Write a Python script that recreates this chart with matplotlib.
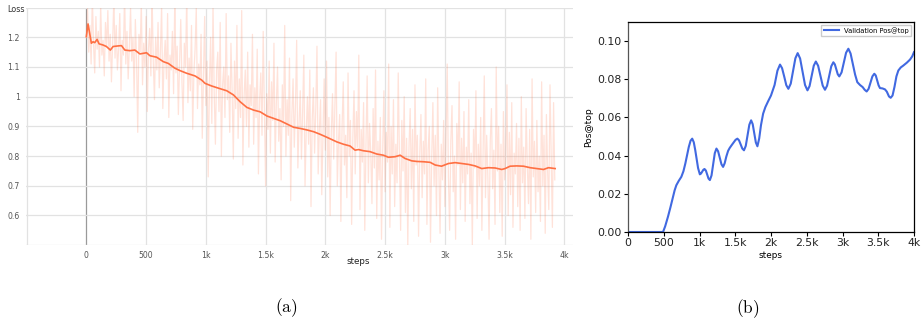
import numpy as np
import matplotlib
matplotlib.use("Agg")
import matplotlib.pyplot as plt

plt.rcParams["mathtext.fontset"] = "cm"

# ---------------- (a) training loss ----------------
# raw loss, logged every 10 steps
loss_raw = [
    1.20, 1.30, 1.15, 1.24, 1.11, 1.34, 1.18, 1.08, 1.27, 1.16, 1.22, 1.10, 1.31, 1.14, 1.19, 1.07, 1.25, 1.17, 1.29, 1.12,
    1.21, 1.05, 1.18, 1.33, 1.13, 1.24, 1.09, 1.16, 1.28, 1.02, 1.19, 1.14, 1.35, 1.11, 1.22, 1.06, 1.17, 1.30, 1.12, 1.20,
    1.00, 1.26, 1.13, 0.88, 1.21, 1.15, 1.32, 1.04, 1.18, 1.10, 1.27, 0.95, 1.16, 1.23, 1.07, 1.34, 1.12, 0.99, 1.20, 1.09,
    1.25, 1.03, 1.15, 1.31, 0.96, 1.12, 1.19, 1.06, 1.28, 0.93, 1.14, 1.09, 1.22, 1.01, 1.33, 1.08, 1.17, 0.94, 1.11, 1.26,
    1.05, 0.92, 1.18, 1.10, 1.34, 0.98, 1.13, 1.02, 1.24, 0.89, 1.08, 1.16, 1.30, 0.96, 1.11, 1.04, 1.21, 0.86, 1.07, 1.27,
    0.97, 1.12, 0.73, 1.05, 1.20, 0.91, 1.31, 1.01, 0.84, 1.09, 1.15, 0.95, 1.25, 0.80, 1.04, 1.10, 0.93, 1.28, 0.99, 1.07,
    0.88, 1.18, 1.02, 0.79, 1.12, 0.96, 1.24, 0.86, 1.06, 0.93, 1.29, 0.77, 1.00, 1.09, 0.90, 1.15, 0.83, 1.04, 0.97, 1.21,
    0.84, 1.03, 0.93, 1.16, 0.74, 0.99, 1.08, 0.87, 1.22, 0.95, 0.70, 1.01, 0.89, 1.12, 0.81, 1.05, 0.92, 1.18, 0.78, 0.98,
    1.10, 0.85, 0.96, 0.72, 1.04, 0.90, 1.24, 0.80, 0.99, 0.87, 1.13, 0.65, 0.94, 1.06, 0.83, 0.97, 1.19, 0.76, 0.91, 1.02,
    0.79, 0.95, 1.14, 0.70, 0.88, 1.00, 0.84, 1.09, 0.63, 0.92, 1.03, 0.81, 0.96, 1.17, 0.74, 0.89, 0.99, 0.67, 0.86, 1.06,
    0.82, 1.12, 0.73, 0.93, 0.60, 0.88, 1.01, 0.79, 0.97, 1.15, 0.70, 0.85, 0.94, 0.58, 0.90, 1.05, 0.77, 0.87, 0.66, 1.08,
    0.80, 0.92, 0.57, 0.86, 1.02, 0.74, 0.95, 0.83, 1.14, 0.62, 0.89, 0.78, 0.98, 0.55, 0.84, 1.07, 0.71, 0.91, 0.81, 0.64,
    0.96, 0.76, 1.09, 0.59, 0.85, 0.72, 0.93, 0.52, 0.82, 1.02, 0.68, 0.88, 0.78, 1.11, 0.56, 0.90, 0.74, 0.99, 0.63, 0.84,
    0.71, 1.08, 0.80, 0.55, 0.92, 0.75, 1.00, 0.61, 0.86, 0.50, 0.83, 0.96, 0.69, 0.89, 0.58, 1.04, 0.77, 0.87, 0.53, 0.81,
    0.94, 0.66, 0.85, 0.74, 1.06, 0.57, 0.82, 0.90, 0.51, 0.79, 0.98, 0.70, 0.87, 0.60, 1.03, 0.76, 0.54, 0.84, 0.72, 0.92,
    0.63, 0.88, 1.11, 0.73, 0.55, 0.85, 0.97, 0.68, 0.80, 0.52, 0.91, 0.77, 1.05, 0.62, 0.86, 0.71, 0.95, 0.58, 0.83, 0.74,
    0.99, 0.64, 0.81, 0.50, 0.89, 0.76, 1.02, 0.59, 0.84, 0.70, 0.93, 0.55, 0.80, 1.07, 0.66, 0.87, 0.73, 0.52, 0.85, 0.96,
    0.69, 0.82, 0.57, 1.10, 0.75, 0.90, 0.61, 0.84, 0.53, 0.95, 0.72, 0.79, 1.04, 0.60, 0.88, 0.67, 0.98, 0.56, 0.81, 0.74,
    0.91, 0.63, 0.86, 0.55, 1.00, 0.71, 0.83, 0.59, 0.96, 0.77, 0.64, 0.89, 0.52, 1.06, 0.73, 0.85, 0.61, 0.92, 0.68, 0.80,
    0.58, 1.05, 0.70, 0.87, 0.54, 0.94, 0.75, 0.62, 1.04, 0.81, 0.56, 0.98, 0.72,
]
loss_raw_steps = np.arange(len(loss_raw)) * 10

# smoothed loss
loss_smooth_steps = [
    0, 14, 28, 42, 56, 70, 90, 106, 140, 168, 201, 224, 266, 294, 322, 364,
    406, 448, 504, 532, 588, 644, 686, 741, 783, 839, 909, 965, 993, 1049,
    1119, 1175, 1231, 1287, 1343, 1399, 1455, 1511, 1567, 1623, 1679, 1735,
    1791, 1847, 1903, 1959, 2015, 2095, 2151, 2207, 2249, 2277, 2319, 2374,
    2430, 2486, 2528, 2584, 2626, 2667, 2723, 2765, 2821, 2877, 2919, 2972,
    3030, 3086, 3142, 3198, 3253, 3309, 3365, 3421, 3476, 3504, 3546, 3602,
    3658, 3714, 3770, 3826, 3867, 3923,
]
loss_smooth = [
    1.202, 1.245, 1.213, 1.180, 1.185, 1.182, 1.193, 1.178, 1.174, 1.169,
    1.157, 1.169, 1.171, 1.172, 1.157, 1.155, 1.157, 1.144, 1.148, 1.138,
    1.133, 1.118, 1.112, 1.096, 1.088, 1.079, 1.070, 1.056, 1.045, 1.036,
    1.027, 1.020, 1.006, 0.983, 0.964, 0.955, 0.949, 0.935, 0.927, 0.919,
    0.908, 0.897, 0.893, 0.888, 0.882, 0.873, 0.863, 0.848, 0.840, 0.834,
    0.820, 0.822, 0.818, 0.815, 0.807, 0.803, 0.796, 0.798, 0.803, 0.792,
    0.784, 0.782, 0.781, 0.779, 0.770, 0.766, 0.775, 0.778, 0.775, 0.772,
    0.767, 0.758, 0.761, 0.760, 0.755, 0.758, 0.766, 0.767, 0.766, 0.761,
    0.758, 0.755, 0.761, 0.758,
]

loss_xticks = [0, 500, 1000, 1500, 2000, 2500, 3000, 3500, 4000]
loss_xticklabels = ["0", "500", "1k", "1.5k", "2k", "2.5k", "3k", "3.5k", "4k"]
loss_yticks = [0.6, 0.7, 0.8, 0.9, 1.0, 1.1, 1.2]
loss_yticklabels = ["0.6", "0.7", "0.8", "0.9", "1", "1.1", "1.2"]

# ---------------- (b) validation Pos@top ----------------
val_steps = [
    0, 100, 200, 300, 400, 470, 490, 520, 559, 594, 629, 652, 676, 710, 746,
    775, 802, 827, 850, 875, 898, 920, 940, 956, 980, 1005, 1021, 1037, 1054,
    1070, 1089, 1107, 1126, 1145, 1168, 1191, 1214, 1237, 1260, 1283, 1307,
    1330, 1352, 1375, 1400, 1422, 1450, 1480, 1505, 1530, 1553, 1576, 1599,
    1622, 1647, 1672, 1697, 1722, 1744, 1766, 1788, 1810, 1835, 1860, 1890,
    1921, 1960, 2000, 2050, 2090, 2126, 2155, 2185, 2214, 2243, 2276, 2308,
    2341, 2373, 2407, 2442, 2476, 2510, 2539, 2569, 2598, 2627, 2659, 2691,
    2723, 2755, 2784, 2814, 2843, 2872, 2893, 2914, 2934, 2955, 2987, 3019,
    3050, 3082, 3113, 3145, 3176, 3207, 3245, 3282, 3310, 3338, 3365, 3392,
    3418, 3445, 3465, 3485, 3505, 3524, 3560, 3594, 3620, 3650, 3674, 3700,
    3727, 3754, 3781, 3815, 3851, 3900, 3944, 3975, 4000,
]
val_pos = [
    0.0, 0.0, 0.0, 0.0, 0.0, 0.0, 0.0, 0.003, 0.008, 0.013, 0.0184, 0.0218,
    0.0245, 0.0268, 0.0289, 0.0318, 0.0359, 0.0405, 0.0445, 0.0478, 0.0489,
    0.0470, 0.0430, 0.0393, 0.0335, 0.0302, 0.0306, 0.0316, 0.0326,
    0.0330, 0.0322, 0.0301, 0.0280, 0.0272, 0.0296, 0.0355, 0.0413,
    0.0437, 0.0423, 0.0389, 0.0355, 0.0341, 0.0360, 0.0395, 0.0425,
    0.0440, 0.0455, 0.0470, 0.0483, 0.0489, 0.0480, 0.0459, 0.0437,
    0.0428, 0.0451, 0.0507, 0.0562, 0.0585, 0.0565, 0.0517, 0.0469,
    0.0449, 0.0490, 0.0560, 0.0620, 0.0654, 0.0685, 0.0715, 0.0770,
    0.0845, 0.0877, 0.0858, 0.0814, 0.0769, 0.0750, 0.0777, 0.0844,
    0.0910, 0.0937, 0.0909, 0.0840, 0.0770, 0.0742, 0.0764, 0.0818,
    0.0871, 0.0893, 0.0871, 0.0819, 0.0767, 0.0745, 0.0766, 0.0817,
    0.0868, 0.0889, 0.0878, 0.0852, 0.0826, 0.0815, 0.0836, 0.0888,
    0.0939, 0.0960, 0.0935, 0.0880, 0.0825, 0.0785, 0.0770, 0.0759,
    0.0745, 0.0736, 0.0750, 0.0783, 0.0815, 0.0829, 0.0820, 0.0795,
    0.0768, 0.0754, 0.0752, 0.0747, 0.0735, 0.0710, 0.0703, 0.0715,
    0.0760, 0.0815, 0.0846, 0.0862, 0.0872, 0.0887, 0.0903, 0.0920, 0.0942,
]
val_xticks = [0, 500, 1000, 1500, 2000, 2500, 3000, 3500, 4000]
val_xticklabels = ["0", "500", "1k", "1.5k", "2k", "2.5k", "3k", "3.5k", "4k"]
val_yticks = [0.0, 0.02, 0.04, 0.06, 0.08, 0.10]

W, H = 922, 320
fig = plt.figure(figsize=(W / 100, H / 100), dpi=100)

def box(x0, y0, x1, y1):
    return [x0 / W, 1 - y1 / H, (x1 - x0) / W, (y1 - y0) / H]

# ---- loss panel ----
ax = fig.add_axes(box(26, 7.6, 573.3, 245.2))
orange = "#ff7043"
ax.plot(loss_raw_steps, loss_raw, color=orange, alpha=0.2, lw=0.9, zorder=2)
ax.plot(loss_smooth_steps, loss_smooth, color=orange, lw=1.2, zorder=3)
ax.set_xlim(-505, 4075)
ax.set_ylim(0.5, 1.3)
for s in ax.spines.values():
    s.set_visible(False)
grid_c = "#e2e2e2"
for gx in [-500] + loss_xticks:
    ax.axvline(gx, color=grid_c if gx != 0 else "#9a9a9a", lw=0.9, zorder=1)
for gy in [0.5, 0.6, 0.7, 0.8, 0.9, 1.0, 1.1, 1.2, 1.3]:
    ax.axhline(gy, color=grid_c, lw=0.9, zorder=1)
ax.set_xticks(loss_xticks)
ax.set_xticklabels(loss_xticklabels)
ax.set_yticks(loss_yticks)
ax.set_yticklabels(loss_yticklabels)
ax.tick_params(axis="both", length=0, labelsize=5.6, labelcolor="#555555")
ax.tick_params(axis="x", pad=4.5)
ax.tick_params(axis="y", pad=4.5)
fig.text(16 / W, 1 - 10 / H, "Loss", fontsize=5.8, color="#333333",
         ha="center", va="center")
fig.text(358 / W, 1 - 261 / H, "steps", fontsize=6.3, color="#222222",
         ha="center", va="center")
fig.text(286 / W, 1 - 308 / H, r"$\mathrm{(a)}$", fontsize=12.5,
         ha="center", va="center")

# ---- validation panel ----
bx = fig.add_axes(box(628, 22, 914, 232))
bx.plot(val_steps, val_pos, color="royalblue", lw=1.5,
        label="Validation Pos@top")
bx.set_xlim(0, 4000)
bx.set_ylim(0, 0.11)
bx.set_xticks(val_xticks)
bx.set_xticklabels(val_xticklabels)
bx.set_yticks(val_yticks)
bx.set_yticklabels([f"{v:.2f}" for v in val_yticks])
bx.tick_params(axis="both", labelsize=7.8, length=3, width=0.8, pad=1.5,
               labelcolor="#222222")
for s in bx.spines.values():
    s.set_linewidth(0.9)
bx.spines["left"].set_color("#555555")
bx.set_xlabel("steps", fontsize=6.4, labelpad=2)
bx.set_ylabel("Pos@top", fontsize=6.6, labelpad=3)
bx.legend(loc="upper right", fontsize=4.9, handlelength=2.2,
          borderaxespad=0.4, fancybox=False, framealpha=1,
          edgecolor="#cccccc", borderpad=0.35)
fig.text(748 / W, 1 - 309 / H, r"$\mathrm{(b)}$", fontsize=12.5,
         ha="center", va="center")

fig.savefig("out.png", dpi=100)
